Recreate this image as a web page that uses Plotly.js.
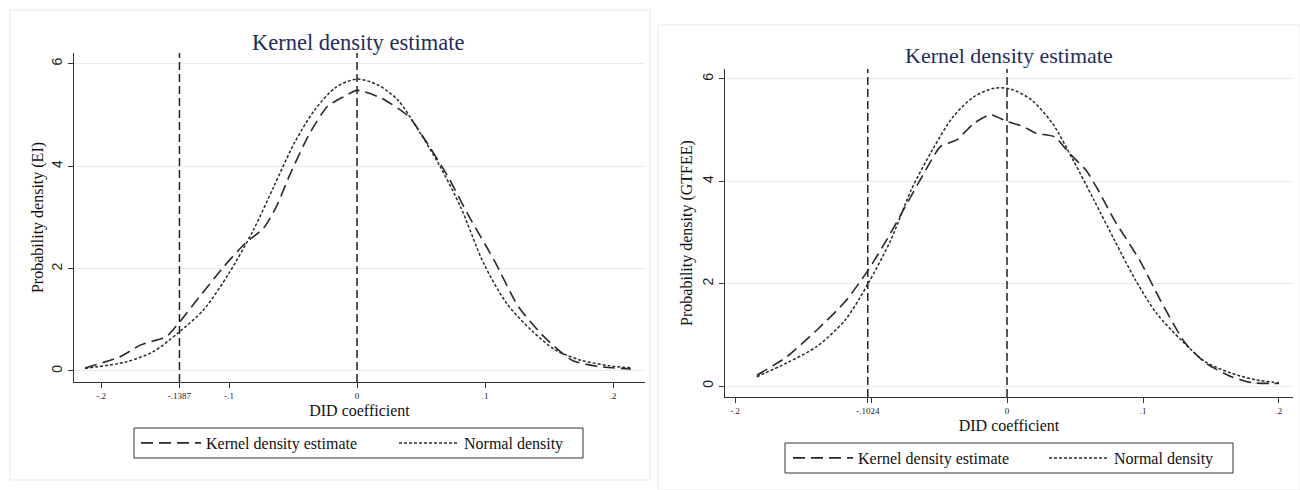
<!DOCTYPE html>
<html>
<head>
<meta charset="utf-8">
<script src="https://cdn.plot.ly/plotly-3.0.1.min.js"></script>
<style>html,body{margin:0;padding:0;background:#fff;}#chart{width:1300px;height:490px;}</style>
</head>
<body>
<div id="chart"></div>
<script>
// ---- Left panel (EI) ----
const eiKernelX = [-0.2125,-0.185,-0.169,-0.149,-0.1395,-0.123,-0.104,-0.0875,-0.073,-0.063,-0.052,-0.037,-0.023,-0.010,0.0,0.019,0.0405,0.0515,0.071,0.0875,0.107,0.126,0.146,0.168,0.188,0.214];
const eiKernelY = [0.06,0.28,0.51,0.67,0.93,1.45,2.04,2.49,2.79,3.21,3.86,4.64,5.17,5.36,5.48,5.33,4.97,4.58,3.80,3.02,2.17,1.26,0.67,0.21,0.09,0.04];
const eiNormalX = [-0.2125,-0.18,-0.159,-0.14,-0.12,-0.10,-0.081,-0.065,-0.049,-0.033,-0.016,0.0,0.016,0.032,0.048,0.065,0.081,0.099,0.117,0.136,0.155,0.175,0.198,0.214];
const eiNormalY = [0.05,0.18,0.38,0.74,1.19,1.91,2.75,3.60,4.45,5.10,5.55,5.70,5.59,5.29,4.70,3.99,3.20,2.10,1.32,0.80,0.41,0.21,0.10,0.06];
const eiRefLines = [-0.1387, 0];
const eiTickVals = [-0.2,-0.1387,-0.1,0,0.1,0.2];
const eiTickText = ['-.2','-.1387','-.1','0','.1','.2'];

// ---- Right panel (GTFEE) ----
const gtKernelX = [-0.184,-0.162,-0.140,-0.119,-0.102,-0.0886,-0.0735,-0.061,-0.049,-0.037,-0.0245,-0.0125,0.0,0.012,0.0213,0.035,0.0457,0.058,0.067,0.079,0.0975,0.1127,0.131,0.146,0.165,0.18,0.20];
const gtKernelY = [0.21,0.57,1.09,1.65,2.27,2.85,3.57,4.16,4.68,4.81,5.13,5.30,5.17,5.07,4.94,4.87,4.55,4.22,3.83,3.24,2.46,1.68,0.84,0.45,0.18,0.065,0.05];
const gtNormalX = [-0.184,-0.162,-0.14,-0.119,-0.102,-0.0855,-0.0705,-0.055,-0.0397,-0.0245,-0.0095,0.003,0.018,0.0335,0.0485,0.064,0.079,0.0945,0.1097,0.128,0.146,0.165,0.183,0.20];
const gtNormalY = [0.18,0.45,0.77,1.29,2.01,2.85,3.83,4.61,5.26,5.65,5.82,5.80,5.59,5.13,4.42,3.63,2.85,2.07,1.43,0.90,0.47,0.25,0.12,0.06];
const gtRefLines = [-0.1024, 0];
const gtTickVals = [-0.2,-0.1024,-0.1,0,0.1,0.2];
const gtTickText = ['-.2','-.1024','','0','.1','.2'];

const yTickVals = [0,2,4,6];
const yTickText = ['0','2','4','6'];
const titleText = 'Kernel density estimate';
const xTitle = 'DID coefficient';
const yTitleLeft = 'Probability density (EI)';
const yTitleRight = 'Probability density (GTFEE)';
const kernelName = 'Kernel density estimate';
const normalName = 'Normal density';

const serif = 'Liberation Serif, Times New Roman, serif';
const lineCol = '#2a2a2a';
const kernelDash = '12px,6px';
const normalDash = '3px,2px';

const traces = [
  {x: eiKernelX, y: eiKernelY, xaxis:'x', yaxis:'y', mode:'lines', name: kernelName, legend:'legend',
   line:{color:lineCol, width:1.6, dash:kernelDash, shape:'spline', smoothing:0.6}},
  {x: eiNormalX, y: eiNormalY, xaxis:'x', yaxis:'y', mode:'lines', name: normalName, legend:'legend2',
   line:{color:lineCol, width:1.5, dash:normalDash, shape:'spline', smoothing:0.8}},
  {x: gtKernelX, y: gtKernelY, xaxis:'x2', yaxis:'y2', mode:'lines', name: kernelName, legend:'legend3',
   line:{color:lineCol, width:1.6, dash:kernelDash, shape:'spline', smoothing:0.6}},
  {x: gtNormalX, y: gtNormalY, xaxis:'x2', yaxis:'y2', mode:'lines', name: normalName, legend:'legend4',
   line:{color:lineCol, width:1.5, dash:normalDash, shape:'spline', smoothing:0.8}}
];

function xAxis(domain, range, vals, text, anchor) {
  return {domain, range, anchor, automargin:false, tickvals: vals, ticktext: text, ticks:'outside', ticklen:5, tickwidth:1,
    tickcolor:'#333', showline:true, linecolor:'#333', linewidth:1, showgrid:false, zeroline:false,
    tickfont:{family:serif, size:9, color:'#222'},
    title:{text:xTitle, font:{family:serif, size:16, color:'#111'}, standoff:5}};
}
function yAxis(domain, range, title, anchor, standoff) {
  return {domain, range, anchor, automargin:false, tickvals: yTickVals, ticktext: yTickText, tickangle:-90, ticks:'outside',
    ticklen:5, tickwidth:1, tickcolor:'#333', showline:true, linecolor:'#333', linewidth:1,
    showgrid:true, gridcolor:'#e4ecef', gridwidth:1, zeroline:false,
    tickfont:{family:'Liberation Sans, Arial, sans-serif', size:14, color:'#222'},
    title:{text:title, font:{family:serif, size:16, color:'#111'}, standoff:standoff}};
}

const W = 1300, H = 490;
const shapes = [];
// panel frames
shapes.push({type:'rect', xref:'paper', yref:'paper', x0:10/W, x1:650/W, y0:1-480/H, y1:1-10/H, line:{color:'#e6e9ea', width:1}, layer:'below'});
shapes.push({type:'rect', xref:'paper', yref:'paper', x0:658/W, x1:1300/W, y0:0, y1:1-25/H, line:{color:'#e6e9ea', width:1}, layer:'below'});
// legend frames
shapes.push({type:'rect', xref:'paper', yref:'paper', x0:134/W, x1:583/W, y0:1-458/H, y1:1-428/H, line:{color:'#333', width:1}, layer:'below'});
shapes.push({type:'rect', xref:'paper', yref:'paper', x0:785/W, x1:1233/W, y0:1-473/H, y1:1-443/H, line:{color:'#333', width:1}, layer:'below'});
eiRefLines.forEach(v => shapes.push({type:'line', xref:'x', yref:'y domain', x0:v, x1:v, y0:0, y1:1, line:{color:'#222', width:1.5, dash:'8px,4px'}}));
gtRefLines.forEach(v => shapes.push({type:'line', xref:'x2', yref:'y2 domain', x0:v, x1:v, y0:0, y1:1, line:{color:'#222', width:1.5, dash:'8px,4px'}}));

function legendCfg(xl, yc) {
  return {orientation:'h', x:xl, y:yc, xanchor:'left', yanchor:'middle', borderwidth:0,
    bgcolor:'rgba(0,0,0,0)', font:{family:serif, size:16, color:'#111'}, itemwidth:60};
}

const layout = {
  width: W, height: H, margin:{l:0, r:0, t:0, b:0}, paper_bgcolor:'#fff', plot_bgcolor:'#fff',
  showlegend:true,
  xaxis: xAxis([74/W, 645/W], [-0.2211, 0.2250], eiTickVals, eiTickText, 'y'),
  yaxis: yAxis([1-382/H, 1-53/H], [-0.215, 6.21], yTitleLeft, 'x', 1),
  xaxis2: xAxis([725/W, 1293/W], [-0.2074, 0.2103], gtTickVals, gtTickText, 'y2'),
  yaxis2: yAxis([1-397/H, 1-69/H], [-0.215, 6.195], yTitleRight, 'x2', 3),
  legend: legendCfg(136/W, 1-443/H),
  legend2: legendCfg(394/W, 1-443/H),
  legend3: legendCfg(788/W, 1-458/H),
  legend4: legendCfg(1044/W, 1-458/H),
  shapes,
  annotations: [
    {text:titleText, xref:'paper', yref:'paper', x:358/W, y:1-42/H, xanchor:'center', yanchor:'middle', showarrow:false,
     font:{family:serif, size:22.5, color:'#1f2d5c'}},
    {text:titleText, xref:'paper', yref:'paper', x:1009/W, y:1-55/H, xanchor:'center', yanchor:'middle', showarrow:false,
     font:{family:serif, size:22, color:'#1f2d5c'}}
  ]
};

Plotly.newPlot('chart', traces, layout, {staticPlot:true, displayModeBar:false});
</script>
</body>
</html>
